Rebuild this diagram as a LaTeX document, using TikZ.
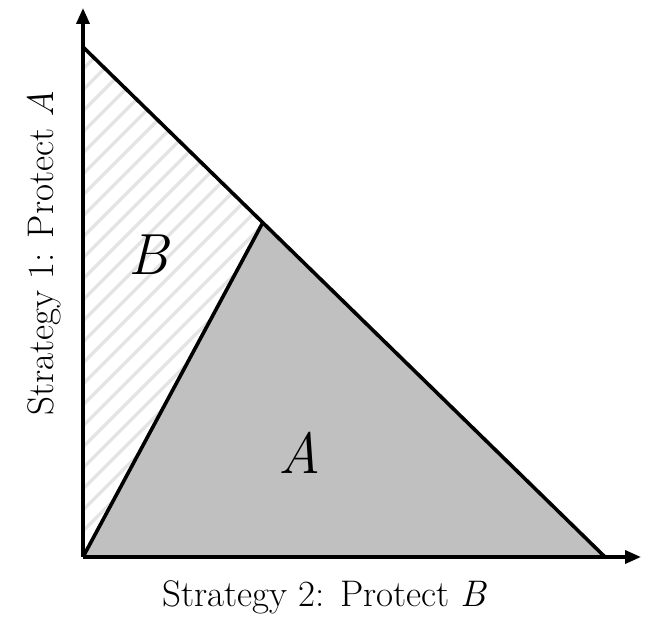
\documentclass[tikz,border=0pt]{standalone}
\usepackage{xcolor}
\usetikzlibrary{arrows.meta, positioning}

\definecolor{regiongrey}{RGB}{192,192,192}
\definecolor{hatchgrey}{RGB}{228,228,228}

\begin{document}
\begin{tikzpicture}[
  x=1pt, y=1pt,
  axis/.style={-{Triangle[length=16pt, width=13pt]}, line width=3.6pt},
  border/.style={line width=3.6pt, line join=round},
  hatchline/.style={hatchgrey, line width=3.5pt},
  region/.style={font=\fontsize{58}{60}\selectfont\itshape},
  axislabel/.style={font=\fontsize{37}{40}\selectfont}
]
\useasboundingbox (0,0) rectangle (649,619);
\coordinate (o) at (83,62);
\coordinate (top) at (83,572);
\coordinate (right) at (605,62);
\coordinate (p) at (262,395);
\coordinate (ytip) at (83,611);
\coordinate (xtip) at (641,62);

% region A
\fill[regiongrey] (o) -- (p) -- (right) -- cycle;
% region B, hatched
\begin{scope}
  \clip (o) -- (top) -- (p) -- cycle;
  \foreach \i in {0,...,40}
    \draw[hatchline] (0,{-100+21*\i}) -- ++(300,300);
\end{scope}

\draw[border] (top) -- (right);
\draw[border] (o) -- (p);
\draw[axis] (o) -- (ytip);
\draw[axis] (o) -- (xtip);

\node[region] (lb) at (148,364) {B};
\node[region] (la) at (300,166) {A};
\node[axislabel] (xlab) at (325,22) {Strategy 2: Protect \textit{B}};
\node[axislabel, rotate=90] (ylab) at (44,366) {Strategy 1: Protect \textit{A}};
\end{tikzpicture}
\end{document}
